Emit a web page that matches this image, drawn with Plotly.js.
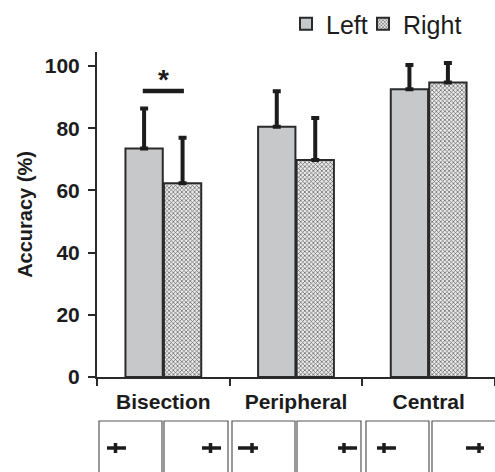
<!DOCTYPE html>
<html>
<head>
<meta charset="utf-8">
<script src="https://cdn.plot.ly/plotly-3.0.1.min.js"></script>
<style>
html,body{margin:0;padding:0;background:#fff;}
#chart{width:495px;height:472px;}
</style>
</head>
<body>
<div id="chart"></div>
<script>
// ---- data ----
var categories = ['Bisection', 'Peripheral', 'Central'];
var leftValues = [73.5, 80.5, 92.5];
var leftErrors = [12.8, 11.4, 7.8];
var rightValues = [62.3, 69.8, 94.7];
var rightErrors = [14.6, 13.5, 6.3];
var seriesNames = ['Left', 'Right'];
var yTicks = [0, 20, 40, 60, 80, 100];
var sigPair = {category: 0, level: 92, label: '*'};
// stimulus icons: [box left px, box right px, mark left px, mark right px, transection px]
var iconBoxes = [
  [99, 162, 107, 126, 115.5],
  [164, 228, 202, 221, 210.5],
  [232, 295, 238, 258, 252],
  [297, 361, 338, 357, 344],
  [366, 429, 377, 396, 384],
  [432, 497, 466, 484, 479]
];

// ---- layout geometry ----
var W = 495, H = 472;
var mL = 97, mR = 0, mT = 52, mB = 95;
var pw = W - mL - mR, ph = H - mT - mB;
function px2paperX(px) { return (px - mL) / pw; }
function py2paperY(py) { return (H - mB - py) / ph; }

var edge = '#2a2a2a';
var ink = '#1c1c1c';
var fam = 'Liberation Sans, Arial, sans-serif';
var errStyle = function (arr) {
  return {type: 'data', symmetric: false, array: arr, arrayminus: arr.map(function(){return 0;}),
          color: ink, thickness: 4, width: 4};
};

var traces = [
  {
    type: 'bar', name: seriesNames[0], x: categories, y: leftValues, legend: 'legend',
    marker: {color: '#c7c8ca', line: {color: edge, width: 2}},
    error_y: errStyle(leftErrors)
  },
  {
    type: 'bar', name: seriesNames[1], x: categories, y: rightValues, legend: 'legend2',
    marker: {color: '#e6e6e6', line: {color: edge, width: 2},
             pattern: {shape: 'x', size: 3, solidity: 0.4, fgcolor: '#5a5a5a', bgcolor: '#ebebeb'}},
    error_y: errStyle(rightErrors)
  }
];

var shapes = [];
// significance bar
shapes.push({type: 'line', xref: 'x', yref: 'y', x0: sigPair.category - 0.155, x1: sigPair.category + 0.155,
             y0: sigPair.level, y1: sigPair.level, line: {color: ink, width: 4.5}});
// extend x axis line a bit to the left
shapes.push({type: 'line', xref: 'paper', yref: 'paper', x0: px2paperX(91), x1: 0, y0: 0, y1: 0,
             line: {color: edge, width: 2}});
// stimulus icons
iconBoxes.forEach(function (b) {
  shapes.push({type: 'rect', xref: 'paper', yref: 'paper',
               x0: px2paperX(b[0]), x1: px2paperX(b[1]), y0: py2paperY(421), y1: py2paperY(490),
               line: {color: '#555', width: 1.2}, fillcolor: 'rgba(0,0,0,0)'});
  shapes.push({type: 'line', xref: 'paper', yref: 'paper',
               x0: px2paperX(b[2]), x1: px2paperX(b[3]), y0: py2paperY(448), y1: py2paperY(448),
               line: {color: ink, width: 3.5}});
  shapes.push({type: 'line', xref: 'paper', yref: 'paper',
               x0: px2paperX(b[4]), x1: px2paperX(b[4]), y0: py2paperY(443), y1: py2paperY(453),
               line: {color: ink, width: 3.5}});
});

function legendAt(pxX) {
  return {orientation: 'h', x: px2paperX(pxX), xanchor: 'left', y: py2paperY(1), yanchor: 'top',
          font: {size: 25, color: ink}, bgcolor: 'rgba(0,0,0,0)', itemwidth: 30,
          tracegroupgap: 0, traceorder: 'normal'};
}

var layout = {
  width: W, height: H,
  margin: {l: mL, r: mR, t: mT, b: mB, pad: 0},
  paper_bgcolor: '#fff', plot_bgcolor: '#fff',
  font: {family: fam, color: ink},
  barmode: 'group', bargap: 0.42, bargroupgap: 0.03,
  showlegend: true,
  legend: legendAt(286),
  legend2: legendAt(363),
  xaxis: {
    type: 'category', range: [-0.5, 2.5], showgrid: false, zeroline: false,
    showline: true, linecolor: edge, linewidth: 2,
    ticks: 'outside', tickson: 'boundaries', ticklen: 7, tickwidth: 2, tickcolor: edge,
    tickfont: {size: 21, family: fam, weight: 'bold', color: ink},
    ticklabelstandoff: 5
  },
  yaxis: {
    range: [0, ph / 3.11], showgrid: false, zeroline: false,
    showline: true, linecolor: edge, linewidth: 2,
    ticks: 'outside', ticklen: 7, tickwidth: 2, tickcolor: edge,
    tickvals: yTicks, ticktext: yTicks.map(String),
    tickfont: {size: 21, family: fam, weight: 'bold', color: ink},
    ticklabelstandoff: 4,
    title: {text: 'Accuracy (%)', standoff: 7,
            font: {size: 20, family: fam, weight: 'bold', color: ink}}
  },
  shapes: shapes,
  annotations: [{
    xref: 'x', yref: 'y', x: sigPair.category, y: sigPair.level, yanchor: 'bottom', yshift: -6,
    text: sigPair.label, showarrow: false,
    font: {size: 28, family: fam, weight: 'bold', color: ink}
  }]
};

Plotly.newPlot('chart', traces, layout, {displayModeBar: false, staticPlot: true});
</script>
</body>
</html>
